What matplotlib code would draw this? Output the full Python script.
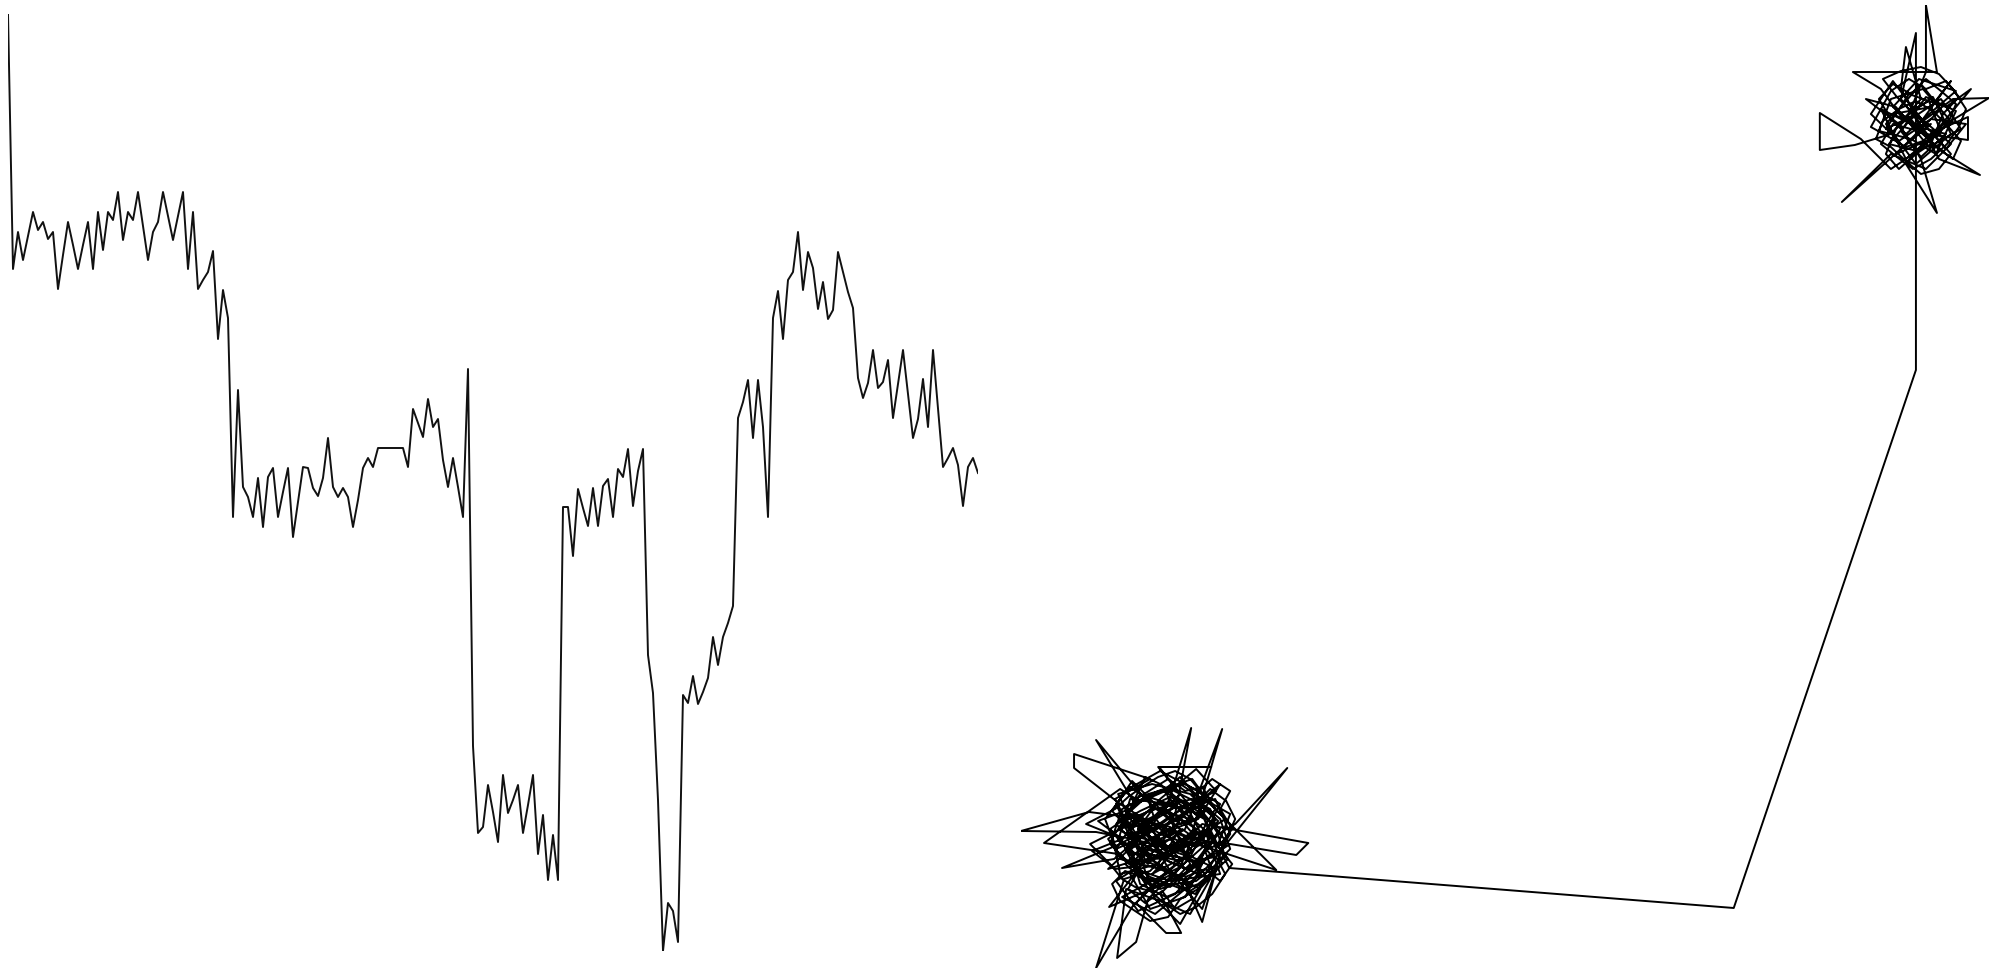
import numpy as np
import matplotlib
matplotlib.use("Agg")
import matplotlib.pyplot as plt

# left panel: one trace, depth-like value (plotted with inverted axis)
depth = [14, 269, 232, 260, 236, 212, 230, 222, 239, 232,
         289, 255, 222, 245, 269, 245, 222, 269, 212, 250,
         212, 220, 192, 240, 212, 220, 192, 226, 260, 232,
         222, 192, 216, 240, 216, 192, 269, 212, 289, 280,
         272, 251, 339, 290, 318, 517, 390, 487, 497, 517,
         478, 527, 477, 468, 517, 492, 468, 537, 502, 467,
         468, 488, 496, 478, 438, 487, 497, 488, 497, 527,
         500, 468, 458, 467, 448, 448, 448, 448, 448, 448,
         467, 409, 423, 437, 399, 427, 419, 460, 487, 458,
         487, 517, 369, 746, 833, 827, 785, 812, 842, 775,
         813, 800, 785, 833, 805, 775, 854, 815, 880, 835,
         880, 507, 507, 556, 489, 508, 526, 488, 526, 486,
         479, 517, 469, 477, 449, 506, 471, 449, 655, 693,
         800, 951, 903, 911, 942, 695, 703, 676, 704, 692,
         678, 637, 665, 637, 623, 606, 418, 402, 380, 438,
         380, 427, 517, 318, 291, 339, 280, 272, 232, 290,
         252, 268, 309, 282, 319, 310, 252, 272, 292, 308,
         378, 398, 383, 350, 388, 382, 360, 418, 384, 350,
         394, 438, 419, 379, 427, 350, 408, 467, 458, 448,
         465, 506, 467, 458, 473]

# right panel: 2d track, first cluster, jump, second cluster
walk_a1 = np.array([
    (140, 130), (118, 152), (160, 110), (132, 95), (175, 140), (150, 170), (105, 120), (128, 80), (170, 98), (195, 130),
    (158, 162), (120, 175), (98, 140), (135, 118), (182, 105), (165, 72), (130, 60), (110, 95), (148, 145), (188, 168),
    (172, 190), (138, 178), (102, 160), (90, 125), (115, 100), (150, 88), (200, 95), (185, 138), (145, 120), (125, 150),
    (69, 157), (1, 138), (76, 137), (112, 130), (160, 150), (190, 115), (155, 75), (118, 58), (96, 88), (130, 110),
    (168, 125), (205, 150), (178, 178), (140, 198), (108, 180), (85, 150), (100, 110), (140, 100), (180, 80), (160, 45),
    (135, 70), (110, 140), (150, 160), (195, 170), (210, 135), (185, 95), (150, 130), (120, 120), (95, 170), (130, 190),
    (54, 215), (54, 201), (100, 165), (140, 140), (170, 112), (145, 85), (112, 72), (89, 62), (120, 102), (165, 155),
    (200, 185), (178, 150), (130, 130), (105, 105), (132, 82), (176, 88), (205, 112), (190, 160), (150, 180), (115, 165),
    (76, 229), (125, 170), (160, 140), (138, 105), (100, 95), (92, 135), (128, 158), (172, 170), (198, 148), (174, 120),
    (142, 92), (116, 66), (146, 36), (161, 36), (140, 75), (170, 105), (150, 150), (112, 188), (92, 158), (120, 128),
    (160, 118), (196, 100), (182, 60), (150, 98), (124, 140), (160, 175), (138, 202), (191, 202), (139, 202), (168, 165),
    (200, 140), (176, 108), (132, 118), (98, 128), (110, 170), (148, 165), (171, 241), (155, 155), (120, 110), (88, 100),
])

walk_a2 = np.array([
    (120, 130), (135, 148), (128, 170), (110, 182), (96, 165), (105, 145), (88, 130), (100, 112), (118, 98), (108, 80),
    (125, 66), (142, 78), (155, 60), (172, 70), (165, 92), (185, 100), (200, 88), (212, 105), (198, 122), (212, 140),
    (200, 160), (210, 178), (192, 190), (175, 175), (160, 192), (145, 180), (152, 160), (136, 150), (148, 132), (162, 140),
    (178, 128), (170, 112), (152, 118), (140, 102), (125, 115), (112, 102), (95, 100), (72, 118), (102, 130), (78, 148),
    (110, 160), (125, 192), (140, 185), (158, 170), (172, 158), (188, 150), (198, 135), (185, 118), (192, 98), (178, 80),
    (160, 70), (148, 52), (130, 48), (115, 58), (100, 68), (92, 85), (105, 98), (122, 92), (138, 88), (152, 95),
    (168, 85), (180, 95), (170, 110), (158, 125), (145, 115), (130, 125), (118, 140), (132, 138), (146, 145), (162, 155),
    (178, 168), (190, 180), (206, 168), (215, 150), (205, 128), (188, 120), (175, 140), (160, 128), (142, 120), (128, 105),
    (112, 118), (98, 132), (66, 145), (95, 160), (108, 172), (122, 182), (138, 192), (155, 198), (170, 190), (185, 172),
    (178, 152), (165, 165), (150, 172), (135, 165), (120, 158), (106, 150), (118, 132), (132, 128), (148, 108), (165, 100),
    (182, 110), (196, 112), (205, 95), (192, 75), (176, 62), (160, 55), (145, 65), (130, 78), (115, 82), (102, 90),
    (90, 105), (70, 125), (96, 138), (112, 145), (128, 150), (145, 158), (160, 145), (175, 150), (188, 160), (200, 150),
    (210, 120), (198, 108), (185, 88), (170, 78), (155, 85), (140, 80), (126, 88), (114, 108), (126, 122), (140, 130),
    (155, 138), (168, 132), (182, 138), (195, 160), (182, 182), (165, 178), (148, 190), (132, 180), (116, 170), (100, 180),
])

walk_a3 = np.array([
    (24, 126), (98, 115), (130, 92), (175, 75), (202, 105), (184, 150), (154, 168), (124, 145), (106, 118), (140, 110),
    (182, 130), (200, 165), (165, 185), (128, 175), (100, 150), (118, 120), (155, 105), (190, 90), (170, 55), (140, 68),
    (106, 80), (97, 11), (116, 27), (128, 70), (158, 100), (186, 125), (168, 160), (135, 165), (108, 138), (126, 108),
    (162, 92), (195, 118), (210, 155), (180, 172), (146, 150), (120, 132), (94, 110), (42, 101), (100, 125), (135, 145),
    (170, 130), (202, 240), (165, 140), (138, 122), (110, 150), (98, 175), (132, 185), (170, 175), (195, 150), (182, 112),
    (150, 82), (120, 92), (108, 130), (145, 160), (176, 140), (160, 102), (128, 86), (102, 72), (135, 55), (165, 80),
    (190, 105), (267, 201), (215, 145), (176, 122), (140, 135), (112, 155), (90, 140), (118, 105), (152, 115), (182, 145),
    (288, 126), (276, 114), (210, 125), (168, 98), (134, 128), (104, 162), (142, 178), (180, 160), (204, 130), (182, 47),
    (164, 88), (128, 112), (96, 145), (124, 170), (160, 185), (190, 165), (256, 99), (198, 118), (160, 130), (130, 98),
    (104, 90), (76, 1), (112, 62), (140, 92), (172, 118), (150, 142), (116, 150), (96, 120), (128, 135), (164, 162),
    (196, 178), (176, 200), (140, 170), (118, 140), (150, 120), (188, 135), (208, 110), (178, 85), (146, 72), (120, 85),
    (110, 120), (145, 138), (170, 150), (135, 160), (104, 148), (128, 115), (160, 108), (195, 150), (170, 180), (209, 101),
])

link = np.array([(713, 61), (895, 599)])

walk_b1 = np.array([
    (895, 936), (880, 870), (910, 830), (875, 815), (920, 860), (900, 885), (865, 845), (895, 805), (930, 835), (912, 872),
    (882, 850), (860, 880), (832, 897), (916, 897), (905, 964), (905, 897), (890, 860), (925, 820), (945, 845), (910, 850),
    (878, 828), (850, 855), (872, 888), (902, 848), (932, 870), (968, 871), (930, 848), (900, 820), (870, 800), (840, 830),
    (799, 856), (799, 819), (834, 824), (870, 835), (900, 870), (885, 922), (880, 880), (918, 810), (959, 794), (925, 815),
    (890, 845), (860, 860), (885, 810), (920, 840), (947, 852), (947, 829), (905, 835), (872, 862), (898, 890), (935, 878),
])

walk_b2 = np.array([
    (885, 835), (870, 850), (858, 870), (872, 885), (890, 875), (905, 890), (920, 878), (935, 865), (928, 848), (915, 832),
    (930, 815), (918, 800), (900, 795), (885, 808), (870, 822), (855, 830), (862, 848), (878, 860), (895, 868), (912, 858),
    (925, 845), (940, 828), (932, 810), (915, 822), (900, 838), (888, 852), (875, 840), (865, 815), (878, 800), (895, 815),
    (910, 825), (922, 855), (938, 872), (925, 888), (905, 880), (888, 890), (870, 878), (860, 860), (850, 842), (868, 832),
    (885, 822), (902, 828), (918, 842), (908, 868), (890, 858), (876, 872), (862, 890), (880, 898), (900, 902), (918, 895),
    (932, 880), (945, 860), (938, 842), (926, 825), (910, 810), (892, 800), (876, 812), (860, 825), (872, 845), (890, 840),
])

walk_b3 = np.array([
    (910, 845), (880, 820), (821, 767), (870, 815), (905, 800), (930, 825), (895, 855), (865, 840), (888, 875), (925, 862),
    (950, 880), (915, 838), (885, 805), (916, 756), (900, 810), (878, 845), (845, 870), (875, 862), (908, 822), (940, 840),
    (920, 870), (890, 850), (868, 825), (896, 818), (928, 850), (902, 880), (870, 870), (858, 838), (890, 830), (915, 815),
    (935, 858), (905, 872), (880, 838), (900, 812), (925, 835), (898, 842), (872, 855), (910, 862), (930, 888), (894, 839),
])

track = np.vstack([walk_a1, walk_a2, walk_a3, link, walk_b1, walk_b2, walk_b3])

W, H = 2002, 969
fig = plt.figure(figsize=(W / 100, H / 100), dpi=100)

ax1 = fig.add_axes([8 / W, 18 / H, 970 / W, 937 / H])
ax1.plot(np.arange(len(depth)), depth, color="#111111", lw=1.4)
ax1.margins(0)
ax1.invert_yaxis()
ax1.axis("off")

ax2 = fig.add_axes([1021 / W, 1 / H, 968 / W, 963 / H])
ax2.plot(track[:, 0], track[:, 1], color="black", lw=1.4)
ax2.margins(0)
ax2.axis("off")

fig.savefig("out.png", dpi=100)
